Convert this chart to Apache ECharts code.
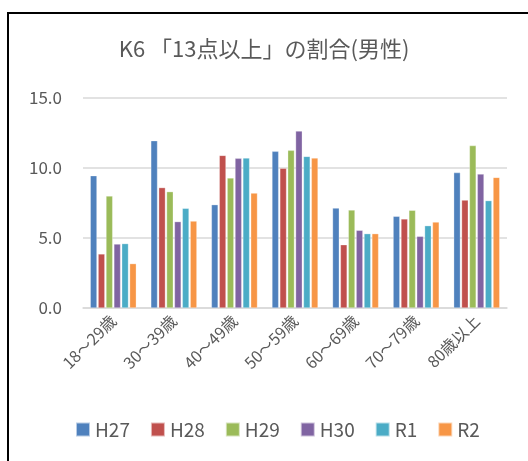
<!DOCTYPE html>
<html><head><meta charset="utf-8">
<script src="https://cdn.jsdelivr.net/npm/echarts@6/dist/echarts.min.js"></script>
<style>html,body{margin:0;padding:0;background:#fff}#c{width:528px;height:461px}</style>
</head><body><div id="c"></div>
<script>
const categories = ['18～29歳','30～39歳','40～49歳','50～59歳','60～69歳','70～79歳','80歳以上'];
const seriesNames = ['H27','H28','H29','H30','R1','R2'];
const H27 = [9.45, 11.95, 7.38, 11.19, 7.14, 6.55, 9.67];
const H28 = [3.86, 8.6, 10.9, 9.98, 4.52, 6.36, 7.71];
const H29 = [8.0, 8.31, 9.29, 11.26, 7.0, 6.98, 11.6];
const H30 = [4.57, 6.17, 10.69, 12.64, 5.55, 5.12, 9.57];
const R1 = [4.6, 7.12, 10.71, 10.83, 5.31, 5.88, 7.67];
const R2 = [3.17, 6.21, 8.21, 10.71, 5.31, 6.14, 9.33];
const colors = ['#4F81BD','#C0504D','#9BBB59','#8064A2','#4BACC6','#F79646'];
const values = [H27, H28, H29, H30, R1, R2];
const font = '"Noto Sans CJK JP", "Noto Sans", sans-serif';
const chart = echarts.init(document.getElementById('c'));
chart.setOption({
  animation: false,
  color: colors,
  textStyle: {fontFamily: font},
  title: {text: 'K6 「13点以上」の割合(男性)', left: 'center', top: 33,
    textStyle: {fontSize: 22, fontWeight: 'normal', color: '#595959', fontFamily: font}},
  graphic: [{type: 'rect', shape: {x: 8, y: 13, width: 700, height: 700},
    style: {fill: 'none', stroke: '#000', lineWidth: 2}, z: 100}],
  grid: {left: 83, right: 21, top: 98, bottom: 153},
  legend: {top: 415, left: 70, itemWidth: 14, itemHeight: 14, itemGap: 20,
    icon: 'rect', data: seriesNames,
    textStyle: {fontSize: 19, color: '#595959', fontFamily: font}},
  xAxis: {type: 'category', data: categories,
    axisLine: {lineStyle: {color: '#d9d9d9', width: 1.5}}, axisTick: {show: false},
    axisLabel: {rotate: 45, fontSize: 16, color: '#595959', margin: 10, interval: 0, fontFamily: font}},
  yAxis: {type: 'value', min: 0, max: 15, interval: 5,
    axisLine: {show: false}, axisTick: {show: false},
    splitLine: {lineStyle: {color: '#d9d9d9', width: 1.5}},
    axisLabel: {fontSize: 17, color: '#595959', margin: 21, fontFamily: font,
      formatter: v => v.toFixed(1)}},
  series: seriesNames.map((n, i) => ({
    name: n, type: 'bar', data: values[i], barGap: '18%', barCategoryGap: '24%',
    itemStyle: {borderColor: 'rgba(255,255,255,0.6)', borderWidth: 0.5}
  }))
});
</script></body></html>
